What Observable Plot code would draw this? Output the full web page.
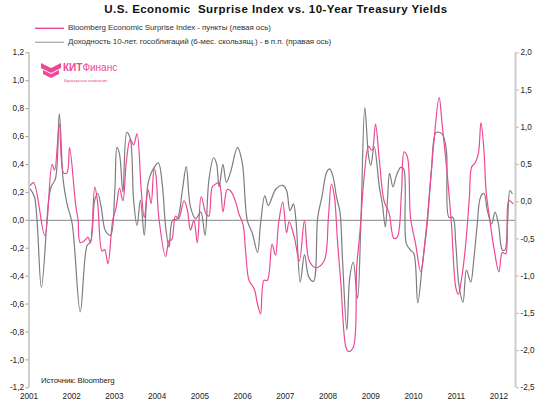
<!DOCTYPE html>
<html>
<head>
<meta charset="utf-8">
<script src="https://cdn.jsdelivr.net/npm/d3@7"></script>
<script src="https://cdn.jsdelivr.net/npm/@observablehq/plot@0.6"></script>
<style>
  html, body { margin: 0; padding: 0; background: #fff; }
  #wrap { position: relative; width: 550px; height: 408px; font-family: "Liberation Sans", Arial, sans-serif; color: #222; overflow: hidden; }
  #wrap > svg { position: absolute; left: 0; top: 0; }
  .title { position: absolute; left: 0; width: 552px; top: 3px; text-align: center; font-weight: bold; font-size: 11.5px; letter-spacing: 0.45px; color: #111; white-space: pre; }
  .leg { position: absolute; left: 35px; height: 10px; font-size: 8px; line-height: 10px; color: #333; white-space: nowrap; letter-spacing: -0.08px; }
  .leg svg { display: inline-block; vertical-align: top; margin-right: 4px; }
  .src { position: absolute; left: 41px; top: 376px; font-size: 7.8px; color: #222; letter-spacing: -0.1px; }
  .logo { position: absolute; left: 41px; top: 61px; }
</style>
</head>
<body>
<div id="wrap"></div>
<script>
// ---- data ----
const titleText = "U.S. Economic  Surprise Index vs. 10-Year Treasury Yields";
const seriesNames = [
  "Bloomberg Economic Surprise Index - пункты (левая ось)",
  "Доходность 10-лет. гособлигаций (6-мес. скользящ.) - в п.п. (правая ось)"
];
const sourceText = "Источник: Bloomberg";

// Bloomberg Economic Surprise Index (left axis), time in decimal years
const surpriseTimes = [
  2001.03,2001.11,2001.37,2001.54,2001.60,2001.71,2001.81,2001.89,2001.95,2002.09,
  2002.15,2002.20,2002.32,2002.38,2002.44,2002.54,2002.61,2002.71,2002.77,2002.85,
  2002.96,2003.04,2003.12,2003.20,2003.28,2003.37,2003.45,2003.53,2003.63,2003.70,
  2003.79,2003.86,2003.93,2003.97,2004.04,2004.20,2004.28,2004.34,2004.43,2004.50,
  2004.63,2004.71,2004.78,2004.86,2004.94,2005.03,2005.14,2005.21,2005.29,2005.37,
  2005.45,2005.54,2005.64,2005.72,2005.84,2005.91,2006.01,2006.07,2006.15,2006.27,
  2006.35,2006.42,2006.50,2006.58,2006.69,2006.77,2006.84,2006.94,2007.03,2007.09,
  2007.21,2007.33,2007.45,2007.56,2007.72,2007.91,2008.01,2008.08,2008.15,2008.22,
  2008.30,2008.42,2008.48,2008.59,2008.67,2008.75,2008.85,2008.95,2009.03,2009.11,
  2009.20,2009.31,2009.43,2009.54,2009.62,2009.72,2009.78,2009.86,2009.93,2010.05,
  2010.17,2010.28,2010.36,2010.48,2010.60,2010.67,2010.79,2010.89,2010.99,2011.05,
  2011.13,2011.22,2011.31,2011.36,2011.44,2011.52,2011.58,2011.65,2011.70,2011.78,
  2011.88,2012.00,2012.08,2012.16,2012.23,2012.33
];
const surpriseValues = [
  0.25,0.27,-0.11,0.40,0.36,0.69,0.34,0.34,0.52,0.12,
  0.00,-0.16,-0.14,-0.12,-0.16,0.24,0.12,-0.22,-0.21,-0.31,
  0.00,0.09,0.23,0.14,0.42,0.58,0.54,0.62,0.21,0.02,
  0.22,0.12,0.37,0.33,0.02,-0.26,-0.145,-0.14,0.03,0.01,
  0.14,0.07,-0.07,0.00,-0.16,0.17,0.05,0.03,0.24,0.26,
  0.27,0.06,0.22,0.21,0.13,0.05,-0.03,-0.22,-0.43,-0.49,
  -0.60,-0.67,-0.43,-0.43,-0.17,-0.25,-0.03,0.13,-0.09,-0.01,
  -0.12,-0.29,0.00,-0.29,-0.34,-0.29,0.02,0.26,0.17,-0.14,
  -0.45,-0.91,-0.94,-0.91,-0.34,-0.07,0.33,0.53,0.50,0.69,
  0.43,0.14,0.05,-0.13,-0.12,0.21,0.49,0.45,0.02,-0.17,
  -0.37,-0.12,0.14,0.57,0.88,0.69,0.33,-0.03,-0.48,-0.53,
  -0.41,-0.18,0.17,0.38,0.41,0.48,0.70,0.50,0.21,0.02,
  -0.19,-0.37,-0.23,-0.24,0.14,0.12
];

// 10-year Treasury yield, 6-month change, p.p. (right axis)
const yieldTimes = [
  2001.03,2001.13,2001.29,2001.46,2001.52,2001.62,2001.71,2001.80,2001.89,2002.01,
  2002.20,2002.36,2002.44,2002.54,2002.61,2002.69,2002.79,2002.91,2003.01,2003.06,
  2003.12,2003.20,2003.29,2003.37,2003.45,2003.53,2003.61,2003.70,2003.79,2003.93,
  2004.03,2004.12,2004.20,2004.28,2004.36,2004.47,2004.59,2004.68,2004.78,2004.90,
  2005.02,2005.12,2005.21,2005.32,2005.39,2005.45,2005.54,2005.62,2005.72,2005.88,
  2005.99,2006.11,2006.23,2006.35,2006.42,2006.52,2006.60,2006.78,2006.94,2007.03,
  2007.11,2007.19,2007.25,2007.35,2007.45,2007.55,2007.66,2007.76,2007.86,2007.97,
  2008.04,2008.12,2008.20,2008.28,2008.34,2008.44,2008.51,2008.59,2008.69,2008.77,
  2008.86,2008.95,2009.00,2009.08,2009.20,2009.27,2009.34,2009.39,2009.44,2009.52,
  2009.60,2009.70,2009.77,2009.83,2009.93,2010.01,2010.10,2010.21,2010.32,2010.42,
  2010.53,2010.67,2010.77,2010.83,2010.92,2010.99,2011.06,2011.16,2011.24,2011.34,
  2011.41,2011.49,2011.57,2011.65,2011.73,2011.83,2011.91,2011.99,2012.08,2012.14,
  2012.20,2012.26,2012.31
];
const yieldValues = [
  0.17,0.06,-1.15,0.02,0.20,0.31,1.18,0.29,-0.03,-0.29,
  -1.48,-0.59,-0.54,0.02,0.11,-0.07,-0.39,-0.45,0.15,0.73,
  0.64,0.13,0.93,0.85,0.02,-0.32,0.02,-0.45,0.25,0.46,
  0.52,0.24,-0.34,-0.61,-0.25,-0.23,0.15,0.47,-0.07,-0.23,
  -0.14,-0.45,0.29,0.59,0.51,0.20,0.50,0.26,0.40,0.73,
  0.53,-0.25,-0.43,-0.68,-0.30,0.08,-0.05,0.17,0.22,0.15,
  -0.12,-0.03,-0.25,-1.08,-0.71,-1.01,-1.07,-0.21,0.07,0.40,
  0.44,0.33,0.06,-0.14,-0.79,-1.72,-1.01,-0.81,-1.30,-0.25,
  1.26,0.60,0.49,0.74,0.20,-0.03,-0.34,0.02,0.38,0.20,
  0.35,0.46,0.44,-0.56,-0.65,-0.70,-1.36,-0.83,-0.30,0.42,
  0.93,0.91,0.69,-0.21,-0.21,-0.56,-1.10,-1.35,-0.92,-1.08,
  -0.79,-0.32,0.06,0.11,-0.12,-0.30,-0.14,-0.30,-0.65,-0.65,
  -0.30,0.15,0.11
];

const yearTicks = [2001,2002,2003,2004,2005,2006,2007,2008,2009,2010,2011,2012];
const leftTicks = [1.2,1.0,0.8,0.6,0.4,0.2,0.0,-0.2,-0.4,-0.6,-0.8,-1.0,-1.2];
const rightTicks = [2.0,1.5,1.0,0.5,0.0,-0.5,-1.0,-1.5,-2.0,-2.5];

// ---- helpers ----
const toDate = (t) => { const y = Math.floor(t); const s = Date.UTC(y,0,1), e = Date.UTC(y+1,0,1); return new Date(s + (t - y) * (e - s)); };
const leftDom = [-1.2, 1.2], rightDom = [-2.5, 2.0];
const rToL = (r) => leftDom[0] + (r - rightDom[0]) * (leftDom[1] - leftDom[0]) / (rightDom[1] - rightDom[0]);
const lToR = (l) => rightDom[0] + (l - leftDom[0]) * (rightDom[1] - rightDom[0]) / (leftDom[1] - leftDom[0]);
const fmt = (v) => { const r = Math.round(v * 10) / 10; return (Math.abs(r) < 1e-9 ? 0 : r).toFixed(1).replace(".", ","); };

const surprise = surpriseTimes.map((t, i) => ({date: toDate(t), value: surpriseValues[i]}));
const yields = yieldTimes.map((t, i) => ({date: toDate(t), value: rToL(yieldValues[i])}));
const xStart = new Date(Date.UTC(2001,0,1));
const xEnd = new Date(Date.UTC(2012,4,22));
const pink = "#ec4896", grey = "#7d7d7d";
const seriesColors = [pink, "#b0b0b0"];

const chart = Plot.plot({
  width: 550, height: 408,
  marginLeft: 28.5, marginRight: 35, marginTop: 52.3, marginBottom: 20.7,
  style: {fontFamily: "'Liberation Sans', Arial, sans-serif", fontSize: "8px", color: "#222", background: "transparent"},
  x: {type: "utc", domain: [xStart, xEnd], axis: null},
  y: {domain: leftDom, axis: null},
  marks: [
    Plot.ruleY([0], {stroke: "#858585", strokeWidth: 1}),
    Plot.ruleX([xStart], {y1: leftDom[0], y2: leftDom[1], stroke: "#a0a0a0", strokeWidth: 1}),
    Plot.ruleX([xEnd], {y1: leftDom[0], y2: leftDom[1], stroke: "#cccccc", strokeWidth: 2}),
    Plot.axisY(leftTicks, {anchor: "left", label: null, tickSize: 3, tickPadding: 2, stroke: "#a0a0a0", tickFormat: fmt, fontSize: 8.2}),
    Plot.axisY(rightTicks.map(rToL), {anchor: "right", label: null, tickSize: 3, tickPadding: 2, stroke: "#bbbbbb", tickFormat: (d) => fmt(lToR(d)), fontSize: 8.2}),
    Plot.axisX(yearTicks.map(y => new Date(Date.UTC(y,0,1))), {anchor: "bottom", label: null, tickSize: 0, tickPadding: 5, tickFormat: d => String(d.getUTCFullYear()), fontSize: 8.2}),
    Plot.line(yields, {x: "date", y: "value", stroke: grey, strokeWidth: 1.2, curve: "catmull-rom"}),
    Plot.line(surprise, {x: "date", y: "value", stroke: pink, strokeWidth: 1.2, curve: "catmull-rom"})
  ]
});

const wrap = document.getElementById("wrap");
wrap.appendChild(chart);

const title = document.createElement("div");
title.className = "title"; title.textContent = titleText; wrap.appendChild(title);

[23, 37].forEach((top, i) => {
  const d = document.createElement("div");
  d.className = "leg"; d.style.top = top + "px";
  d.innerHTML = `<svg width="29" height="10"><line x1="0" x2="29" y1="5.3" y2="5.3" stroke="${seriesColors[i]}" stroke-width="1.4"/></svg>`;
  d.appendChild(document.createTextNode(seriesNames[i]));
  wrap.appendChild(d);
});

const src = document.createElement("div");
src.className = "src"; src.textContent = sourceText; wrap.appendChild(src);

const logo = document.createElement("div");
logo.className = "logo";
logo.innerHTML = `<svg width="80" height="24" xmlns="http://www.w3.org/2000/svg">
  <polygon points="0,2 10,7 20,2 20,7 10,12 0,7" fill="${pink}"/>
  <polygon points="2,9 10,13 18,9 18,13 10,17 2,13" fill="${pink}"/>
  <text x="22" y="10" font-family="'Liberation Sans', Arial, sans-serif" font-size="10" fill="${pink}"><tspan font-weight="bold">КИТ</tspan>Финанс</text>
  <text x="23" y="21" font-family="'Liberation Sans', Arial, sans-serif" font-size="4.3" fill="${pink}">Брокерская компания</text>
</svg>`;
wrap.appendChild(logo);
</script>
</body>
</html>
